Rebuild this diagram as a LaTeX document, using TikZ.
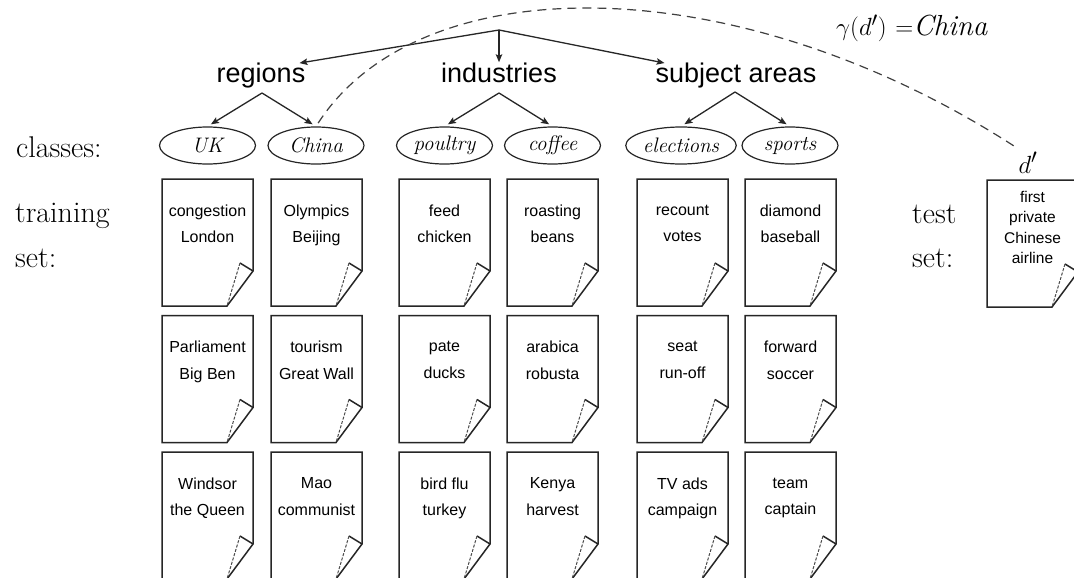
\documentclass[tikz,border=0pt]{standalone}
\usepackage{fontspec}
\newfontfamily\arialfont{Liberation Sans}
\usetikzlibrary{arrows.meta,shapes.geometric}

% outline of a document sheet with a dog-eared lower right corner
\newcommand\foldeddoc[1]{%
  \draw[paperline] (#1.north west) -- (#1.north east) -- ([yshift=35pt]#1.south east)
    -- ([xshift=-26pt]#1.south east) -- (#1.south west) -- cycle;
  \draw[paperline] ([yshift=35pt]#1.south east) -- ([xshift=-13pt,yshift=43pt]#1.south east);
  \draw[flapline] ([xshift=-13pt,yshift=43pt]#1.south east) -- ([xshift=-26pt]#1.south east);
}

\begin{document}
\begin{tikzpicture}[x=1pt,y=-1pt,
  arr/.style={line width=1.3pt, draw=black!85, shorten >=1pt,
    -{Stealth[length=8pt,width=6.5pt,inset=1.5pt]}},
  guess/.style={line width=1.2pt, draw=black!75, dash pattern=on 9pt off 6pt},
  group/.style={font=\arialfont\fontsize{27}{30}\selectfont, inner sep=0pt, anchor=base},
  cls/.style={ellipse, draw=black!85, line width=1.2pt, minimum width=96pt,
    minimum height=37pt, inner sep=1pt, font=\fontsize{21}{24}\selectfont\itshape},
  side/.style={font=\fontsize{30}{34}\selectfont, inner sep=0pt, anchor=base west},
  paperline/.style={line width=1.5pt, draw=black!85, line join=miter},
  flapline/.style={line width=1pt, draw=black!70, dash pattern=on 3pt off 1.5pt},
  doc/.style={minimum width=91pt, minimum height=127pt, inner sep=0pt, outer sep=0pt},
  sheettext/.style={anchor=north, inner sep=0pt, align=center,
    execute at begin node=\rule{0pt}{12pt}},
  doctext/.style={sheettext, yshift=-25.5pt,
    font=\arialfont\fontsize{16}{26.5}\selectfont},
  testtext/.style={sheettext, yshift=-11pt,
    font=\arialfont\fontsize{15.5}{20.3}\selectfont},
  trainingdoc/.style={doc, label={[doctext]north:{#1}}},
  testdoc/.style={doc, label={[testtext]north:{#1}}}
]
\fill[white] (0,0) rectangle (1074,578);
\useasboundingbox (0,0) rectangle (1074,578);

% row captions
\node[side] (lblclasses) at (16,157) {classes:};
\node[side] (lbltraining) at (15,222) {training};
\node[side] (lbltrainset) at (15,267) {set:};
\node[side] (lbltest) at (912,223) {test};
\node[side] (lbltestset) at (912,267) {set:};

% class hierarchy
\coordinate (root) at (499,30);
\node[group] (regions) at (261,83) {regions};
\node[group] (industries) at (499,83) {industries};
\node[group] (subjects) at (736,83) {subject areas};

\draw[arr] (root) -- ([xshift=-7pt]regions.north east);
\draw[arr] (root) -- (industries.north);
\draw[arr] (root) -- ([xshift=10pt]subjects.north west);

\node[cls] (uk) at (207.5,145.5) {UK};
\node[cls] (china) at (316,145.5) {China};
\node[cls] (poultry) at (444.5,145.5) {poultry};
\node[cls] (coffee) at (552.5,145.5) {coffee};
\node[cls] (elections) at (681,145.5) {elections};
\node[cls] (sports) at (790,145.5) {sports};

\coordinate (rsplit) at (262,93);
\coordinate (isplit) at (499,93);
\coordinate (ssplit) at (735,92);
\draw[arr, shorten >=4pt] (rsplit) -- (uk.north);
\draw[arr, shorten >=4pt] (rsplit) -- (china.north);
\draw[arr, shorten >=4pt] (isplit) -- (poultry.north);
\draw[arr, shorten >=4pt] (isplit) -- (coffee.north);
\draw[arr, shorten >=4pt] (ssplit) -- (elections.north);
\draw[arr, shorten >=4pt] (ssplit) -- (sports.north);

% training documents
\node[trainingdoc={congestion\\London}] (d11) at (207.5,242.5) {};
\node[trainingdoc={Olympics\\Beijing}] (d12) at (316.5,242.5) {};
\node[trainingdoc={feed\\chicken}] (d13) at (444.5,242.5) {};
\node[trainingdoc={roasting\\beans}] (d14) at (552.5,242.5) {};
\node[trainingdoc={recount\\votes}] (d15) at (682.5,242.5) {};
\node[trainingdoc={diamond\\baseball}] (d16) at (790.5,242.5) {};

\node[trainingdoc={Parliament\\Big Ben}] (d21) at (207.5,379) {};
\node[trainingdoc={tourism\\Great Wall}] (d22) at (316.5,379) {};
\node[trainingdoc={pate\\ducks}] (d23) at (444.5,379) {};
\node[trainingdoc={arabica\\robusta}] (d24) at (552.5,379) {};
\node[trainingdoc={seat\\run-off}] (d25) at (682.5,379) {};
\node[trainingdoc={forward\\soccer}] (d26) at (790.5,379) {};

\node[trainingdoc={Windsor\\the Queen}] (d31) at (207.5,515.5) {};
\node[trainingdoc={Mao\\communist}] (d32) at (316.5,515.5) {};
\node[trainingdoc={bird flu\\turkey}] (d33) at (444.5,515.5) {};
\node[trainingdoc={Kenya\\harvest}] (d34) at (552.5,515.5) {};
\node[trainingdoc={TV ads\\campaign}] (d35) at (682.5,515.5) {};
\node[trainingdoc={team\\captain}] (d36) at (790.5,515.5) {};

\foreach \d in {d11,d12,d13,d14,d15,d16,d21,d22,d23,d24,d25,d26,d31,d32,d33,d34,d35,d36}
  {\foldeddoc{\d}}

% test document
\node[testdoc={first\\private\\Chinese\\airline}] (test) at (1032.5,243.5) {};
\foldeddoc{test}
\node[inner sep=0pt, anchor=base, font=\fontsize{28}{30}\selectfont] (dlabel) at (1028,173) {$d'$};

% assignment of the test document
\draw[guess, shorten <=4pt] (china.north) .. controls (420,-34) and (735,-34)
  .. ([xshift=-4pt,yshift=6pt]dlabel.north west);
\node[inner sep=0pt, anchor=base west, font=\fontsize{29}{31}\selectfont] (assign) at (836,36)
  {$\gamma(d')$~$=$\textit{China}};
\end{tikzpicture}
\end{document}
